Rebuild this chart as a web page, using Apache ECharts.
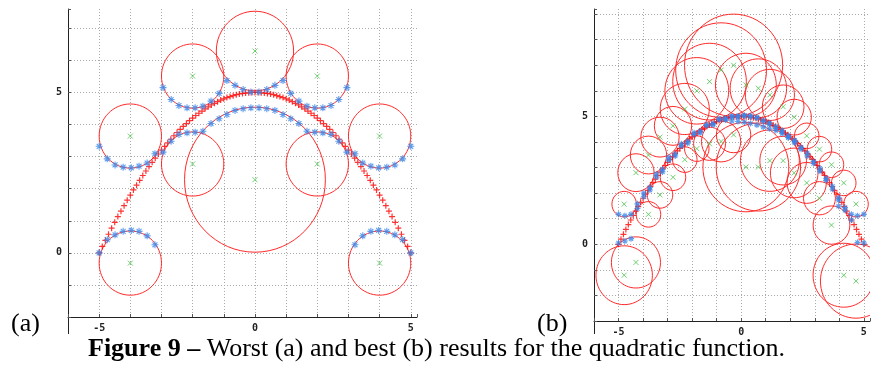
<!DOCTYPE html>
<html>
<head>
<meta charset="utf-8">
<script src="https://cdn.jsdelivr.net/npm/echarts@6/dist/echarts.min.js"></script>
<style>
  html, body { margin: 0; padding: 0; background: #fff; }
  #chart { width: 873px; height: 372px; }
</style>
</head>
<body>
<div id="chart"></div>
<script>
// target curve (red +), same samples in both panels
var targetX = [-5.0,-4.9,-4.8,-4.7,-4.6,-4.5,-4.4,-4.3,-4.2,-4.1,-4.0,-3.9,-3.8,-3.7,-3.6,-3.5,-3.4,-3.3,-3.2,-3.1,
  -3.0,-2.9,-2.8,-2.7,-2.6,-2.5,-2.4,-2.3,-2.2,-2.1,-2.0,-1.9,-1.8,-1.7,-1.6,-1.5,-1.4,-1.3,-1.2,-1.1,
  -1.0,-0.9,-0.8,-0.7,-0.6,-0.5,-0.4,-0.3,-0.2,-0.1,0.0,0.1,0.2,0.3,0.4,0.5,0.6,0.7,0.8,0.9,
  1.0,1.1,1.2,1.3,1.4,1.5,1.6,1.7,1.8,1.9,2.0,2.1,2.2,2.3,2.4,2.5,2.6,2.7,2.8,2.9,
  3.0,3.1,3.2,3.3,3.4,3.5,3.6,3.7,3.8,3.9,4.0,4.1,4.2,4.3,4.4,4.5,4.6,4.7,4.8,4.9,5.0];
var targetY = [0.00,0.20,0.39,0.58,0.77,0.95,1.13,1.30,1.47,1.64,1.80,1.96,2.11,2.26,2.41,2.55,2.69,2.82,2.95,3.08,
  3.20,3.32,3.43,3.54,3.65,3.75,3.85,3.94,4.03,4.12,4.20,4.28,4.35,4.42,4.49,4.55,4.61,4.66,4.71,4.76,
  4.80,4.84,4.87,4.90,4.93,4.95,4.97,4.98,4.99,5.00,5.00,5.00,4.99,4.98,4.97,4.95,4.93,4.90,4.87,4.84,
  4.80,4.76,4.71,4.66,4.61,4.55,4.49,4.42,4.35,4.28,4.20,4.12,4.03,3.94,3.85,3.75,3.65,3.54,3.43,3.32,
  3.20,3.08,2.95,2.82,2.69,2.55,2.41,2.26,2.11,1.96,1.80,1.64,1.47,1.30,1.13,0.95,0.77,0.58,0.39,0.20,0.00];

// (a) worst result: network outputs (blue *)
var sampleX = [-5,-4.74,-4.49,-4.23,-3.97,-3.72,-3.46,-3.21,-2.95,-2.69,-2.44,-2.18,-1.92,-1.67,-1.41,-1.15,-0.9,-0.64,-0.38,-0.13,
  0.13,0.38,0.64,0.9,1.15,1.41,1.67,1.92,2.18,2.44,2.69,2.95,3.21,3.46,3.72,3.97,4.23,4.49,4.74,5];
var midAY = [3.32,2.93,2.74,2.67,2.65,2.70,2.80,3.09,3.14,3.48,3.69,3.74,3.76,3.79,4.03,4.18,4.31,4.44,4.49,4.52,
  4.52,4.49,4.44,4.31,4.18,4.03,3.79,3.76,3.74,3.69,3.48,3.14,3.09,2.80,2.70,2.65,2.67,2.74,2.93,3.32];
var lowAX = [-5,-4.74,-4.49,-4.23,-3.97,-3.72,-3.46,-3.21,3.21,3.46,3.72,3.97,4.23,4.49,4.74,5];
var lowAY = [0.00,0.41,0.56,0.67,0.70,0.67,0.53,0.25,0.25,0.53,0.67,0.70,0.67,0.56,0.41,0.00];
var topAX = [-2.95,-2.69,-2.44,-2.18,-1.92,-1.67,-1.41,-1.15,-0.9,-0.64,-0.38,-0.13,
  0.13,0.38,0.64,0.9,1.15,1.41,1.67,1.92,2.18,2.44,2.69,2.95];
var topAY = [5.15,4.78,4.59,4.52,4.52,4.57,4.73,4.97,5.37,5.22,5.09,5.01,
  5.01,5.09,5.22,5.37,4.97,4.73,4.57,4.52,4.52,4.59,4.78,5.15];

// (a) kernels: centre (green x) and radius (red circle)
var circleAX = [-4, -4, -2, 0, 2, 4, 4, -2, 2, 0];
var circleAY = [3.64, -0.32, 5.51, 6.29, 5.51, 3.64, -0.32, 2.77, 2.77, 2.28];
var circleAR = [1, 1, 1, 1.24, 1, 1, 1, 1, 1, 2.26];

// (b) best result: network outputs (blue *)
var bandB1X = [-4.23,-3.97,-3.72,-3.46,-3.21,-2.95,-2.69,-2.44,-2.18,-1.92,-1.67,-1.41,-1.15,-0.9,-0.64,-0.38,-0.13,
  0.13,0.38,0.64,0.9,1.15,1.41,1.67,1.92,2.18,2.44,2.69,2.95,3.21,3.46,3.72,3.97,4.23,4.49];
var bandB1Y = [1.40,1.86,2.22,2.63,2.93,3.29,3.53,3.84,4.03,4.29,4.42,4.63,4.72,4.87,4.93,4.99,5.02,
  5.05,5.03,4.96,4.85,4.75,4.61,4.46,4.25,4.07,3.79,3.57,3.24,2.97,2.58,2.27,1.82,1.44,0.95];
var bandB2X = [-4.23,-3.97,-3.72,-3.46,-3.21,-2.95,-2.69,-2.44,-2.18,-1.92,-1.67,-1.41,-1.15,-0.9,-0.64,-0.38,-0.13,
  0.13,0.38,0.64,0.9,1.15,1.41,1.67,1.92,2.18,2.44,2.69,2.95,3.21,3.46,3.72,3.97,4.23];
var bandB2Y = [1.58,2.00,2.12,2.75,2.83,3.40,3.45,3.93,3.95,4.36,4.36,4.68,4.67,4.90,4.90,5.01,4.98,
  5.02,4.98,4.95,4.80,4.69,4.53,4.38,4.17,3.96,3.72,3.45,3.16,2.86,2.50,2.15,1.72,1.33];
var lowerBX = [-0.64,-0.38,-0.13,0.13,0.38,0.64,0.9,1.15,1.41,1.67,1.92,2.18];
var lowerBY = [4.86,4.82,4.80,4.77,4.72,4.66,4.59,4.52,4.45,4.33,4.18,4.02];
var edgeBX = [-5,-4.74,-4.49,-5,-4.74,-4.49,3.97,4.49,4.74,5,4.74,5];
var edgeBY = [0.05,0.13,0.22,1.17,1.12,1.17,1.49,1.17,1.12,1.17,0.07,0.05];

// (b) kernels
var circleBX = [-4.77,-3.78,-4.29,-4.77,-4.29,-3.78,-3.31,-3.31,-2.78,-2.78,-2.30,-2.30,-1.81,-1.81,-1.29,-1.29,-0.82,-0.82,-0.31,-0.31,
  0.19,0.19,0.70,0.70,1.17,1.17,1.71,1.71,2.16,2.16,2.67,2.67,3.19,3.19,3.68,3.68,4.18,4.18,4.68,4.68];
var circleBY = [1.57,1.17,-0.71,-1.21,2.80,3.49,4.19,1.93,2.62,4.63,3.31,5.29,3.74,6.00,6.36,3.93,6.81,4.02,7.00,4.28,
  6.23,3.02,6.10,3.02,5.84,3.27,5.38,3.27,4.97,2.79,4.24,2.40,3.72,1.80,3.11,0.75,2.40,-1.21,1.57,-1.44];
var circleBR = [0.5,0.5,1.0,1.15,0.74,0.74,0.78,0.52,0.52,0.76,0.5,1.0,0.5,1.3,1.5,0.65,1.85,0.8,2.0,0.7,
  1.24,1.75,1.15,1.72,1.0,1.2,0.85,0.95,0.7,0.97,0.5,0.8,0.5,0.65,0.5,0.75,0.5,1.25,0.5,1.45];

function pts(xs, ys) {
  return xs.map(function (x, i) { return [x, ys[i]]; });
}
function kernels(xs, ys, rs) {
  return xs.map(function (x, i) { return [x, ys[i], rs[i]]; });
}

var plusSym = 'path://M0,5L10,5M5,0L5,10';
var crossSym = 'path://M0,0L10,10M10,0L0,10';
var starSym = 'path://M0,5L10,5M5,0L5,10M1.5,1.5L8.5,8.5M8.5,1.5L1.5,8.5';

function markStyle(col, w) {
  return { color: 'rgba(0,0,0,0)', borderColor: col, borderWidth: w };
}

function circleSeries(idx, data) {
  return {
    type: 'custom',
    xAxisIndex: idx,
    yAxisIndex: idx,
    silent: true,
    clip: true,
    z: 1,
    data: data,
    encode: { x: 0, y: 1 },
    renderItem: function (params, api) {
      var c = api.coord([api.value(0), api.value(1)]);
      var s = api.size([api.value(2), api.value(2)]);
      return {
        type: 'ellipse',
        shape: { cx: c[0], cy: c[1], rx: s[0], ry: s[1] },
        style: { fill: 'none', stroke: '#ff2a2a', lineWidth: 1 }
      };
    }
  };
}

function scatter(idx, data, sym, size, col, w, z) {
  return {
    type: 'scatter',
    xAxisIndex: idx,
    yAxisIndex: idx,
    silent: true,
    z: z,
    symbol: sym,
    symbolSize: size,
    itemStyle: markStyle(col, w),
    data: data
  };
}

function tickLabel(v) {
  return (v === -5 || v === 0 || v === 5) ? String(v) : '';
}

var labelStyle = {
  formatter: tickLabel,
  fontSize: 10,
  fontWeight: 'bold',
  fontFamily: 'DejaVu Sans Mono',
  color: '#222',
  margin: 6
};
var gridLine = { show: true, showMinLine: false, showMaxLine: false, lineStyle: { color: '#aaaaaa', type: [1, 2], width: 1 } };
var axisLine = { onZero: false, lineStyle: { color: '#222', width: 1 } };
var axisTick = { show: true, inside: true, length: 3, lineStyle: { color: '#555' } };

function xAxis(idx, max) {
  return { type: 'value', gridIndex: idx, min: -6, max: max, interval: 1,
    axisLine: axisLine, axisTick: axisTick, axisLabel: labelStyle, splitLine: gridLine };
}
function yAxis(idx, min, max) {
  return { type: 'value', gridIndex: idx, min: min, max: max, interval: 1,
    axisLine: axisLine, axisTick: axisTick, axisLabel: labelStyle, splitLine: gridLine };
}

var serif = '26px "Liberation Serif"';

var chart = echarts.init(document.getElementById('chart'));
chart.setOption({
  backgroundColor: '#fff',
  animation: false,
  grid: [
    { left: 68, top: 9, width: 349, height: 308 },
    { left: 594, top: 9, width: 279, height: 312 }
  ],
  xAxis: [xAxis(0, 5.2), xAxis(1, 5.25)],
  yAxis: [yAxis(0, -2, 7.6), yAxis(1, -3, 9.2)],
  graphic: [
    // y axis lines run a little past the x axis
    { type: 'line', shape: { x1: 68.5, y1: 317, x2: 68.5, y2: 334 }, style: { stroke: '#222', lineWidth: 1 } },
    { type: 'line', shape: { x1: 594.5, y1: 321, x2: 594.5, y2: 334 }, style: { stroke: '#222', lineWidth: 1 } },
    { type: 'text', left: 11, top: 311, style: { text: '(a)', font: serif, fill: '#000' } },
    { type: 'text', left: 537, top: 311, style: { text: '(b)', font: serif, fill: '#000' } },
    { type: 'text', left: 88, top: 336, style: {
      text: '{b|Figure 9 –} Worst (a) and best (b) results for the quadratic function.',
      font: serif, fill: '#000',
      rich: { b: { fontWeight: 'bold', fontSize: 26, fontFamily: 'Liberation Serif' } }
    } }
  ],
  series: [
    circleSeries(0, kernels(circleAX, circleAY, circleAR)),
    scatter(0, pts(targetX, targetY), plusSym, 6, '#ff0000', 1.2, 2),
    scatter(0, pts(sampleX, midAY), starSym, 7, '#3a86e8', 1.1, 3),
    scatter(0, pts(lowAX, lowAY), starSym, 7, '#3a86e8', 1.1, 3),
    scatter(0, pts(topAX, topAY), starSym, 7, '#3a86e8', 1.1, 3),
    scatter(0, pts(circleAX, circleAY), crossSym, 5, '#4cc44c', 1, 4),

    circleSeries(1, kernels(circleBX, circleBY, circleBR)),
    scatter(1, pts(targetX, targetY), plusSym, 6, '#ff0000', 1.2, 2),
    scatter(1, pts(bandB1X, bandB1Y), starSym, 6, '#3a86e8', 1.1, 3),
    scatter(1, pts(bandB2X, bandB2Y), starSym, 6, '#3a86e8', 1.1, 3),
    scatter(1, pts(lowerBX, lowerBY), starSym, 6, '#3a86e8', 1.1, 3),
    scatter(1, pts(edgeBX, edgeBY), starSym, 6, '#3a86e8', 1.1, 3),
    scatter(1, pts(circleBX, circleBY), crossSym, 5, '#4cc44c', 1, 4)
  ]
});
</script>
</body>
</html>
